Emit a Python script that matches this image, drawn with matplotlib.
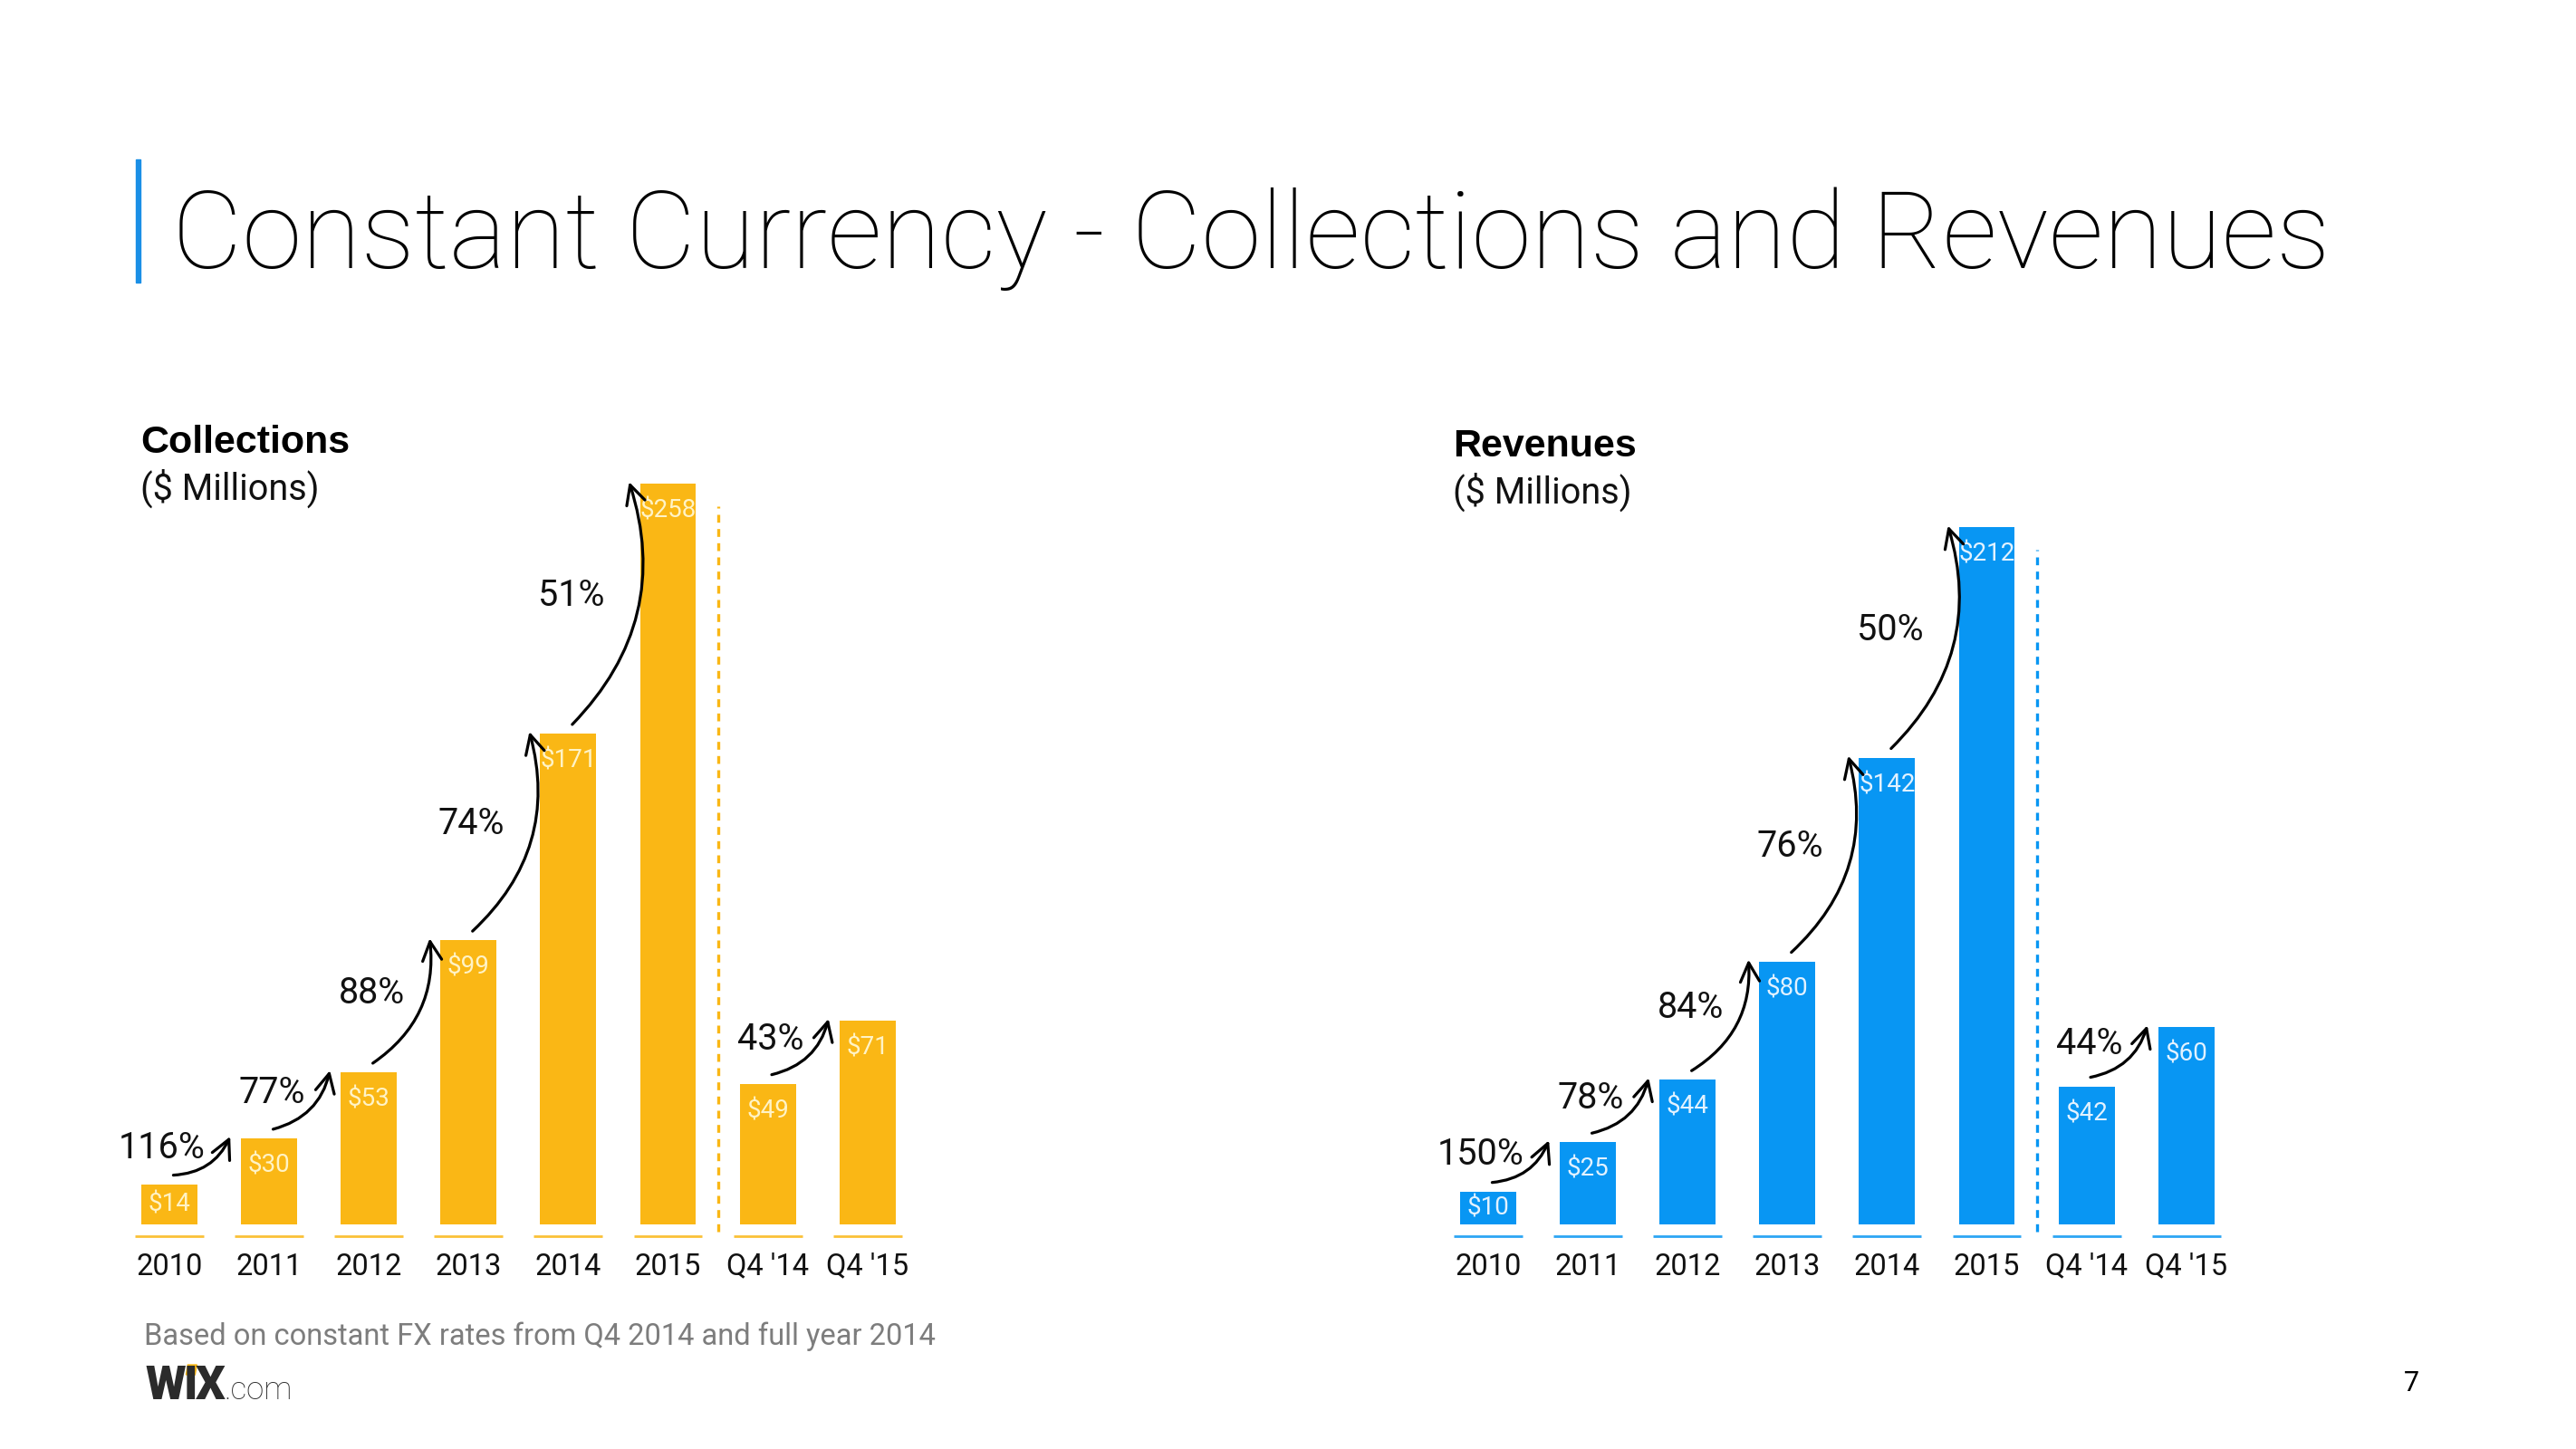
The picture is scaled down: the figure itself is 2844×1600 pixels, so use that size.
"""
Constant Currency - Collections and Revenues (Wix investor slide).
Two bar panels with growth arrows, saved as out.png (2844x1600).
"""
import matplotlib
matplotlib.use("Agg")
import matplotlib.pyplot as plt
import numpy as np
from matplotlib.patches import Rectangle, Polygon

W, H, DPI = 2844, 1600, 100

CATEGORIES = ["2010", "2011", "2012", "2013", "2014", "2015", "Q4 '14", "Q4 '15"]
COLLECTIONS = [14, 30, 53, 99, 171, 258, 49, 71]
REVENUES = [10, 25, 44, 80, 142, 212, 42, 60]
# growth from bar i to bar i+1 (None = no arrow)
COLLECTIONS_GROWTH = ["116%", "77%", "88%", "74%", "51%", None, "43%"]
REVENUES_GROWTH = ["150%", "78%", "84%", "76%", "50%", None, "44%"]

TITLE = "Constant Currency - Collections and Revenues"
FOOTNOTE = "Based on constant FX rates from Q4 2014 and full year 2014"
PAGE = "7"

YELLOW = "#FAB715"
YELLOW_TEXT = "#FFF3C6"
BLUE = "#0896F3"
BLUE_TEXT = "#E2F2FF"
TITLE_BAR = "#1A8FE6"

plt.rcParams["font.family"] = ["Roboto", "DejaVu Sans"]

fig = plt.figure(figsize=(W / DPI, H / DPI), dpi=DPI)
fig.patch.set_facecolor("white")


def px_text(x, y, s, **kw):
    return fig.text(x / W, 1 - y / H, s, **kw)


def draw_panel(values, growth, color, text_color, first_px, px_per_unit,
               header, header_x, header_y):
    step = 110.1
    top_px, base_px = 250, 1352
    left = first_px - step
    right = first_px + 8 * step
    ax = fig.add_axes([left / W, 1 - base_px / H, (right - left) / W, (base_px - top_px) / H])
    ax.set_xlim(-1, 8)
    ax.set_ylim(0, (base_px - top_px) / px_per_unit)
    upp = 1 / px_per_unit  # data units per pixel

    x = np.arange(len(values))
    ax.bar(x, values, width=0.563, color=color, zorder=2)

    for xi, v in zip(x, values):
        drop = min(30, v * px_per_unit / 2) * upp
        ax.text(xi, v - drop, f"${v}", ha="center", va="center", fontsize=20,
                color=text_color, zorder=3)

    ax.hlines(np.full(len(x), -13 * upp), x - 0.345, x + 0.345, color=color,
              lw=2, alpha=0.85, clip_on=False)

    ax.plot([5.5, 5.5], [-8 * upp, values[5] - 25 * upp], color=color, lw=2.4,
            ls=(0, (2.6, 2.1)), clip_on=False)

    for i, g in enumerate(growth):
        if g is None:
            continue
        x0, y0 = i + 0.04, values[i] + 10 * upp
        x1, y1 = i + 1 - 0.39, values[i + 1] + 2 * upp
        ax.annotate("", xy=(x1, y1), xytext=(x0, y0),
                    arrowprops=dict(arrowstyle="->,head_length=0.75,head_width=0.38",
                                    connectionstyle="arc3,rad=0.3", lw=2.3,
                                    color="black", shrinkA=0, shrinkB=0,
                                    mutation_scale=20))
        ax.annotate(g, xy=((x0 + x1) / 2, (y0 + y1) / 2), xytext=(3, 6),
                    textcoords="offset points", ha="right", va="center",
                    fontsize=28.5, color="#111111")

    ax.set_xticks(x, CATEGORIES)
    ax.tick_params(axis="x", length=0, pad=22, labelsize=23.5, labelcolor="#111111")
    ax.set_yticks([])
    for s in ax.spines.values():
        s.set_visible(False)
    ax.patch.set_alpha(0)

    px_text(header_x, header_y, header, fontsize=31, fontweight="bold",
            family=["Liberation Sans", "DejaVu Sans"], va="baseline")
    px_text(header_x, header_y + 52, "($ Millions)", fontsize=28.5,
            color="#111111", va="baseline")
    return ax


draw_panel(COLLECTIONS, COLLECTIONS_GROWTH, YELLOW, YELLOW_TEXT, 187, 3.17,
           "Collections", 155, 500)
draw_panel(REVENUES, REVENUES_GROWTH, BLUE, BLUE_TEXT, 1643, 3.63,
           "Revenues", 1604, 504)

# title with blue accent bar
fig.patches.append(Rectangle((150 / W, 1 - 312 / H), 5 / W, 136 / H,
                             transform=fig.transFigure, color=TITLE_BAR))
px_text(190, 296, TITLE, fontsize=86, fontweight="light", va="baseline")

px_text(159, 1485, FOOTNOTE, fontsize=23.5, color="#7d7d7d", va="baseline")
px_text(2662, 1528, PAGE, fontsize=22, ha="center", va="center")

# wix logo
renderer = fig.canvas.get_renderer()
cur = 160
parts = {}
for ch in ["W", "I", "X"]:
    t = px_text(cur, 1545, ch, fontsize=37, fontweight="black", color="#2b2b2b",
                va="baseline")
    bb = t.get_window_extent(renderer)
    parts[ch] = bb
    cur += bb.width - 2
px_text(cur + 1, 1545, ".com", fontsize=25, fontweight="light", color="#2b2b2b",
        va="baseline")
bi = parts["I"]
cx = (bi.x0 + bi.x1) / 2
ytop = 1508
quad = [(cx - 5, 1518), (cx + 5, 1518), (cx + 7, ytop - 1), (cx - 3, ytop - 1)]
fig.patches.append(Polygon([(qx / W, 1 - qy / H) for qx, qy in quad], closed=True,
                           transform=fig.transFigure, color=YELLOW))

fig.savefig("out.png", dpi=DPI)
